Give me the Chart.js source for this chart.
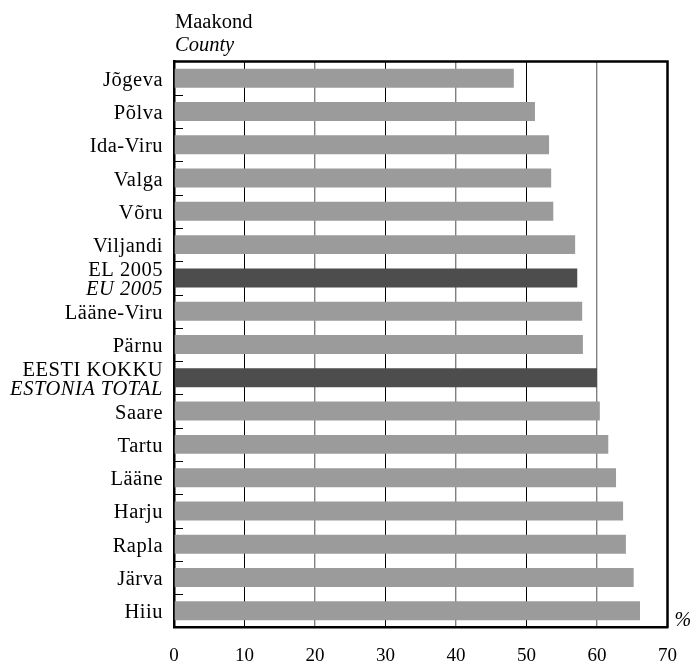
<!DOCTYPE html>
<html>
<head>
<meta charset="utf-8">
<script src="https://cdn.jsdelivr.net/npm/chart.js@4/dist/chart.umd.min.js"></script>
<style>
  html, body { margin: 0; padding: 0; background: #fff; }
  #wrap { width: 691px; height: 664px; }
</style>
</head>
<body>
<div id="wrap"><canvas id="c" width="691" height="664"></canvas></div>
<script>
// ---- Data ----
const categories = ['Jõgeva','Põlva','Ida-Viru','Valga','Võru','Viljandi','EL 2005','Lääne-Viru','Pärnu','EESTI KOKKU','Saare','Tartu','Lääne','Harju','Rapla','Järva','Hiiu'];
const categoriesEn = [null,null,null,null,null,null,'EU 2005',null,null,'ESTONIA TOTAL',null,null,null,null,null,null,null];
const values = [48.2, 51.2, 53.2, 53.5, 53.8, 56.9, 57.2, 57.9, 58.0, 60.0, 60.4, 61.6, 62.7, 63.7, 64.1, 65.2, 66.1];
const aggregateRows = ['EL 2005', 'EESTI KOKKU'];
const xTicks = [0, 10, 20, 30, 40, 50, 60, 70];
const titleEt = 'Maakond';
const titleEn = 'County';
const unitLabel = '%';

const FONT = '"Liberation Serif", "Times New Roman", serif';
const barColors = categories.map(c => aggregateRows.includes(c) ? '#4d4d4d' : '#9b9b9b');

const decor = {
  id: 'decor',
  afterDatasetsDraw(chart) {
    const ctx = chart.ctx;
    const a = chart.chartArea;
    const y = chart.scales.y;
    ctx.save();
    // top and right frame
    ctx.strokeStyle = '#000';
    ctx.lineWidth = 2.5;
    ctx.beginPath();
    ctx.moveTo(a.left, a.top);
    ctx.lineTo(a.right, a.top);
    ctx.lineTo(a.right, a.bottom);
    ctx.stroke();
    // inward tick marks at category boundaries
    ctx.lineWidth = 1;
    ctx.beginPath();
    for (let i = 0; i < categories.length - 1; i++) {
      const yy = Math.round((y.getPixelForValue(i) + y.getPixelForValue(i + 1)) / 2) + 0.5;
      ctx.moveTo(a.left, yy);
      ctx.lineTo(a.left + 9, yy);
    }
    ctx.stroke();
    // category labels
    ctx.fillStyle = '#000';
    ctx.textAlign = 'right';
    ctx.textBaseline = 'alphabetic';
    if ('letterSpacing' in ctx) ctx.letterSpacing = '0.5px';
    const lx = a.left - 11;
    categories.forEach((c, i) => {
      const cy = y.getPixelForValue(i);
      if (categoriesEn[i]) {
        ctx.font = '20.5px ' + FONT;
        ctx.fillText(c, lx, cy - 2);
        ctx.font = 'italic 20.5px ' + FONT;
        ctx.fillText(categoriesEn[i], lx, cy + 17);
      } else {
        ctx.font = '20.5px ' + FONT;
        ctx.fillText(c, lx, cy + 7.5);
      }
    });
    if ('letterSpacing' in ctx) ctx.letterSpacing = '0px';
    // title
    ctx.textAlign = 'left';
    ctx.font = '20.5px ' + FONT;
    ctx.fillText(titleEt, a.left + 1, 28);
    ctx.font = 'italic 20.5px ' + FONT;
    ctx.fillText(titleEn, a.left + 1, 51);
    // unit
    ctx.font = 'italic 20px ' + FONT;
    ctx.fillText(unitLabel, a.right + 7, a.bottom - 2);
    ctx.restore();
  }
};

new Chart(document.getElementById('c'), {
  type: 'bar',
  data: {
    labels: categories,
    datasets: [{
      data: values,
      backgroundColor: barColors,
      borderWidth: 0,
      barPercentage: 0.57,
      categoryPercentage: 1.0
    }]
  },
  options: {
    indexAxis: 'y',
    responsive: false,
    animation: false,
    events: [],
    layout: { padding: { top: 61.5, right: 23.5, bottom: 0, left: 0 } },
    plugins: { legend: { display: false }, tooltip: { enabled: false }, title: { display: false } },
    scales: {
      x: {
        type: 'linear',
        min: 0,
        max: 70,
        afterBuildTicks(scale) { scale.ticks = xTicks.map(v => ({ value: v })); },
        afterFit(scale) { scale.height = 36.5; scale.paddingLeft = 0; scale.paddingRight = 0; },
        grid: {
          drawTicks: false,
          color: (c) => (c.tick && c.tick.value % 20 === 0) ? '#808080' : '#000',
          lineWidth: (c) => (c.tick && c.tick.value % 20 === 0) ? 1.4 : 1
        },
        border: { display: true, color: '#000', width: 2.5 },
        ticks: {
          padding: 17,
          color: '#000',
          font: { family: FONT, size: 19 },
          maxRotation: 0,
          autoSkip: false
        }
      },
      y: {
        type: 'category',
        afterFit(scale) { scale.width = 174; scale.paddingTop = 0; scale.paddingBottom = 0; },
        grid: { display: false },
        border: { display: true, color: '#000', width: 2.5 },
        ticks: { display: false }
      }
    }
  },
  plugins: [decor]
});
</script>
</body>
</html>
